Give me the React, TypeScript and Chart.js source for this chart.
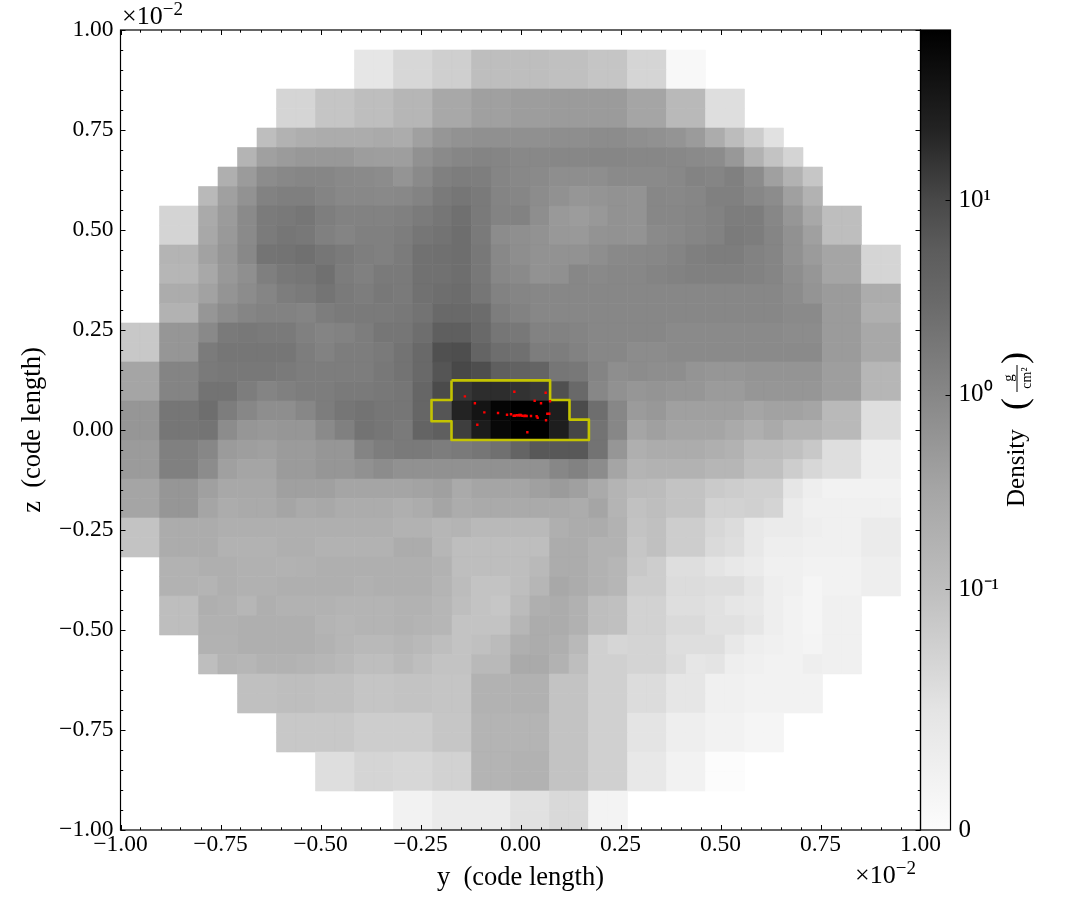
import React, { useEffect, useRef } from "react";
import { Chart, registerables } from "chart.js";

Chart.register(...registerables);

// Grey level (colormapped density) of each cell on the 40x40 fine grid.
// Each row: [first column, ...levels], listed from the top row to the bottom row.
const rowCoarse0 = [12, 230, 230, 215, 215, 207, 207, 190, 190, 190, 190, 192, 192, 197, 197, 213, 213, 248, 248];
const rowCoarse2 = [8, 213, 213, 197, 197, 190, 190, 182, 182, 168, 168, 160, 160, 157, 157, 155, 155, 155, 155, 165, 165, 185, 185, 222, 222];
const rowsMiddle = [
  [7, 190, 178, 174, 172, 172, 172, 170, 172, 160, 150, 146, 144, 144, 144, 144, 142, 142, 140, 140, 143, 145, 148, 155, 172, 188, 205, 225],
  [6, 180, 160, 155, 152, 152, 152, 157, 158, 158, 145, 138, 134, 132, 133, 136, 136, 135, 135, 134, 134, 135, 135, 136, 138, 140, 152, 178, 195, 212],
  [5, 175, 155, 140, 136, 134, 134, 137, 138, 140, 148, 138, 128, 125, 126, 133, 136, 138, 142, 142, 142, 138, 138, 138, 136, 131, 133, 128, 140, 160, 178, 198],
  [4, 185, 160, 146, 130, 127, 127, 132, 136, 136, 137, 136, 131, 122, 118, 122, 132, 134, 140, 145, 150, 148, 146, 147, 135, 136, 134, 128, 128, 135, 140, 160, 178],
  [2, 212, 212, 170, 155, 138, 123, 121, 118, 126, 130, 130, 130, 128, 123, 118, 112, 122, 131, 130, 142, 153, 156, 152, 146, 147, 135, 135, 133, 130, 125, 125, 135, 150, 168, 190, 190],
  [2, 212, 212, 168, 153, 138, 123, 118, 120, 128, 132, 128, 128, 125, 118, 115, 110, 122, 140, 143, 146, 152, 153, 147, 146, 147, 138, 136, 133, 130, 123, 125, 133, 145, 160, 190, 190],
  [2, 180, 180, 162, 150, 136, 116, 115, 112, 118, 122, 126, 128, 123, 113, 112, 110, 120, 136, 142, 146, 146, 146, 142, 137, 136, 135, 132, 127, 125, 125, 130, 133, 145, 155, 165, 165, 213, 213],
  [2, 182, 182, 168, 152, 143, 127, 120, 118, 112, 124, 128, 122, 122, 113, 113, 110, 120, 135, 138, 146, 144, 135, 137, 135, 135, 132, 130, 128, 128, 128, 130, 133, 142, 150, 165, 165, 213, 213],
  [2, 172, 172, 162, 148, 140, 133, 125, 122, 116, 122, 125, 120, 122, 113, 110, 108, 118, 130, 133, 135, 135, 135, 135, 135, 135, 135, 135, 135, 135, 135, 135, 135, 140, 148, 155, 155, 172, 172],
  [2, 178, 178, 150, 140, 133, 130, 130, 132, 125, 122, 122, 122, 120, 115, 105, 105, 108, 125, 130, 135, 135, 135, 135, 135, 135, 135, 135, 135, 135, 135, 135, 135, 138, 138, 155, 155, 175, 175],
  [0, 200, 200, 150, 150, 137, 122, 120, 122, 122, 128, 132, 130, 125, 118, 118, 110, 95, 95, 105, 118, 120, 130, 130, 132, 135, 135, 135, 135, 138, 138, 138, 138, 138, 138, 140, 140, 155, 155, 168, 168],
  [0, 200, 200, 150, 150, 123, 118, 118, 118, 118, 125, 130, 125, 125, 122, 115, 105, 80, 78, 100, 110, 112, 125, 125, 130, 135, 135, 140, 140, 138, 138, 138, 138, 138, 138, 138, 138, 155, 155, 168, 168],
  [0, 165, 165, 132, 132, 122, 120, 120, 120, 122, 125, 125, 125, 125, 120, 115, 105, 85, 72, 78, 95, 98, 100, 118, 120, 132, 142, 140, 142, 142, 148, 150, 150, 148, 148, 148, 148, 158, 158, 182, 182],
  [0, 165, 165, 132, 132, 115, 115, 125, 132, 128, 125, 125, 122, 122, 120, 118, 102, 75, 55, 45, 45, 50, 55, 80, 105, 135, 145, 150, 148, 150, 150, 155, 155, 150, 150, 150, 150, 158, 158, 182, 182],
  [0, 150, 150, 118, 118, 110, 125, 135, 142, 142, 135, 125, 118, 115, 118, 118, 102, 85, 35, 20, 5, 0, 0, 30, 75, 110, 135, 155, 152, 160, 160, 160, 160, 165, 162, 162, 165, 185, 185, 222, 222],
  [0, 150, 150, 118, 118, 116, 140, 150, 152, 150, 150, 138, 128, 115, 118, 122, 100, 95, 62, 28, 8, 0, 0, 30, 70, 115, 135, 165, 160, 165, 165, 165, 170, 175, 170, 178, 178, 185, 185, 222, 222],
  [0, 155, 155, 128, 128, 135, 155, 158, 160, 155, 155, 150, 150, 132, 125, 122, 122, 125, 122, 118, 112, 100, 88, 88, 88, 115, 150, 175, 172, 172, 172, 175, 178, 188, 188, 192, 200, 222, 222, 238, 238],
  [0, 155, 155, 128, 128, 140, 160, 165, 165, 155, 155, 150, 150, 145, 140, 145, 145, 145, 145, 145, 145, 145, 145, 135, 130, 140, 165, 180, 178, 178, 178, 182, 182, 192, 192, 205, 215, 222, 222, 238, 238],
  [0, 165, 165, 150, 150, 160, 168, 168, 168, 160, 160, 160, 165, 165, 165, 165, 163, 160, 170, 165, 165, 165, 160, 155, 160, 170, 180, 187, 188, 195, 195, 202, 205, 208, 208, 230, 238, 242, 242, 242, 242],
  [0, 165, 165, 150, 150, 165, 172, 170, 170, 165, 170, 168, 172, 172, 172, 175, 172, 165, 172, 170, 170, 170, 170, 170, 172, 165, 180, 193, 190, 195, 195, 210, 210, 208, 212, 235, 240, 240, 240, 240, 240],
  [0, 195, 195, 172, 172, 172, 175, 175, 175, 175, 175, 175, 175, 175, 175, 178, 178, 182, 180, 185, 185, 185, 185, 175, 172, 172, 178, 195, 192, 205, 205, 215, 220, 232, 235, 235, 238, 240, 240, 235, 235],
  [0, 195, 195, 172, 172, 172, 178, 178, 178, 175, 175, 178, 178, 178, 178, 172, 172, 182, 190, 190, 190, 190, 190, 172, 172, 178, 178, 198, 192, 205, 205, 218, 222, 232, 238, 238, 240, 240, 240, 235, 235],
  [2, 178, 178, 175, 175, 177, 177, 178, 177, 175, 175, 175, 175, 175, 175, 178, 190, 190, 190, 190, 185, 172, 172, 178, 182, 200, 205, 222, 222, 228, 232, 235, 240, 240, 242, 242, 242, 238, 238],
  [2, 178, 178, 180, 175, 177, 177, 175, 175, 175, 175, 177, 175, 175, 175, 180, 188, 195, 195, 190, 182, 168, 172, 178, 182, 205, 205, 220, 220, 222, 222, 230, 238, 240, 245, 242, 242, 238, 238],
  [2, 190, 190, 175, 177, 182, 175, 178, 178, 178, 180, 180, 180, 178, 178, 182, 190, 195, 198, 187, 175, 172, 177, 190, 192, 210, 210, 222, 222, 225, 230, 232, 238, 242, 245, 240, 240],
  [2, 190, 190, 177, 177, 175, 175, 175, 175, 180, 182, 180, 180, 178, 180, 182, 195, 195, 195, 182, 172, 172, 177, 190, 192, 210, 210, 218, 218, 225, 225, 230, 238, 242, 245, 240, 240],
  [4, 178, 178, 175, 175, 175, 175, 178, 182, 185, 185, 182, 185, 190, 195, 192, 187, 175, 172, 175, 185, 208, 214, 212, 212, 222, 222, 222, 232, 238, 240, 242, 244, 240, 240],
  [4, 190, 180, 182, 178, 178, 180, 182, 185, 190, 190, 185, 190, 195, 195, 185, 185, 170, 170, 178, 190, 208, 208, 212, 212, 220, 230, 228, 238, 240, 242, 242, 238, 240, 240],
];
const rowCoarse32 = [6, 192, 192, 190, 190, 192, 192, 197, 197, 195, 195, 197, 197, 178, 178, 177, 177, 195, 195, 208, 208, 220, 220, 230, 230, 240, 240, 242, 242, 242, 242];
const rowCoarse34 = [8, 200, 200, 200, 200, 205, 205, 205, 205, 198, 198, 180, 180, 180, 180, 195, 195, 208, 208, 228, 228, 238, 238, 242, 242, 245, 245];
const rowCoarse36 = [10, 222, 222, 213, 213, 215, 215, 210, 210, 180, 180, 178, 178, 195, 195, 208, 208, 232, 232, 242, 242, 252, 252];
const rowCoarse38 = [14, 242, 242, 235, 235, 235, 235, 225, 225, 217, 217, 243, 243];
const gridRows = [
  rowCoarse0, rowCoarse0, rowCoarse2, rowCoarse2, ...rowsMiddle,
  rowCoarse32, rowCoarse32, rowCoarse34, rowCoarse34, rowCoarse36, rowCoarse36, rowCoarse38, rowCoarse38,
];

// Clump contour (y, z in units of 1e-2 code length)
const contourY = [-0.1725, 0.074, 0.074, 0.1225, 0.1225, 0.171, 0.171, -0.1725, -0.1725, -0.2225, -0.2225, -0.1725, -0.1725];
const contourZ = [0.124, 0.124, 0.075, 0.075, 0.026, 0.026, -0.025, -0.025, 0.022, 0.022, 0.075, 0.075, 0.124];

// Particles
const particleY = [-0.139, -0.114, -0.0904, -0.0562, -0.0337, -0.0237, -0.0154, 0.0629, 0.0354, 0.0513, 0.0738, -0.108, 0.0171, 0.0638, 0.0671, 0.0721, 0.0404, 0.0429, 0.0263, 0.0154, 0.0096, 0.0046, -0.0013, -0.0054, -0.0096, -0.0138, -0.0171, 0.0005, -0.003, 0.012];
const particleZ = [0.084, 0.067, 0.044, 0.0425, 0.0383, 0.0392, 0.0958, 0.0933, 0.0733, 0.0667, 0.0717, 0.0133, -0.0058, 0.0242, 0.0408, 0.0408, 0.0342, 0.0308, 0.035, 0.035, 0.035, 0.0358, 0.0367, 0.0367, 0.0367, 0.0358, 0.0358, 0.0375, 0.0375, 0.0358];

const axisMajorTicks = [-1, -0.75, -0.5, -0.25, 0, 0.25, 0.5, 0.75, 1];
const colorbarTickDensity = [0, 0.1, 1, 10];
const colorbarTickLabels = ["0", "10⁻¹", "10⁰", "10¹"];
// Colormap: position on the colorbar (0 to 1) and its grey level
const colorbarStopPos = [0, 0.15, 0.3009, 0.4258, 0.5438, 0.6625, 0.725, 0.7875, 0.875, 1];
const colorbarStopGrey = [252, 228, 190, 165, 135, 105, 92, 72, 35, 0];

const CELL = 0.04875; // fine cell size in axis units
const FONT = "'Liberation Serif', 'Times New Roman', serif";

const densityToPos = (v: number) =>
  v <= 0 ? 0 : v < 0.1 ? (v / 0.1) * 0.3009 : 0.3009 + Math.log10(v / 0.1) * 0.2433;

const fmtTick = (v: number) => (v < 0 ? "\u2212" : "") + Math.abs(v).toFixed(2);

function drawFrameTicks(chart: any) {
  const { ctx, chartArea: a, scales } = chart;
  const { left, right, top, bottom } = a;
  ctx.save();
  ctx.strokeStyle = "#000";
  ctx.lineWidth = 1;
  const minorStep = 0.05;
  for (let k = -20; k <= 20; k++) {
    const v = k * minorStep;
    const major = k % 5 === 0;
    const len = major ? 5 : 2.7;
    const x = Math.round(scales.x.getPixelForValue(v)) + 0.5;
    const y = Math.round(scales.y.getPixelForValue(v)) + 0.5;
    ctx.beginPath();
    ctx.moveTo(x, bottom); ctx.lineTo(x, bottom - len);
    ctx.moveTo(x, top); ctx.lineTo(x, top + len);
    ctx.moveTo(left, y); ctx.lineTo(left + len, y);
    ctx.moveTo(right, y); ctx.lineTo(right - len, y);
    ctx.stroke();
  }
  // colorbar gradient, frame and ticks
  const cbLeft = right;
  const cbW = 30;
  const s = scales.cb;
  const g = ctx.createLinearGradient(0, s.getPixelForValue(0), 0, s.getPixelForValue(1));
  colorbarStopPos.forEach((p, i) => {
    const c = colorbarStopGrey[i];
    g.addColorStop(p, `rgb(${c},${c},${c})`);
  });
  ctx.fillStyle = g;
  ctx.fillRect(cbLeft, top, cbW, bottom - top);
  ctx.lineWidth = 1.2;
  ctx.strokeRect(cbLeft, top, cbW, bottom - top);
  ctx.strokeRect(left, top, right - left, bottom - top);
  ctx.lineWidth = 1;
  colorbarTickDensity.slice(1).forEach((d) => {
    const y = Math.round(s.getPixelForValue(densityToPos(d))) + 0.5;
    ctx.beginPath();
    ctx.moveTo(cbLeft + cbW, y);
    ctx.lineTo(cbLeft + cbW - 5, y);
    ctx.stroke();
  });

  // offset texts
  ctx.fillStyle = "#000";
  ctx.textBaseline = "alphabetic";
  ctx.textAlign = "left";
  const offset = (x: number, y: number) => {
    ctx.font = `26px ${FONT}`;
    ctx.fillText("×10", x, y);
    const w = ctx.measureText("×10").width;
    ctx.font = `19px ${FONT}`;
    ctx.fillText("\u22122", x + w, y - 9);
  };
  offset(122, 24);
  offset(855, 883);

  // colorbar title, rotated
  ctx.save();
  ctx.translate(1024, 430);
  ctx.rotate(-Math.PI / 2);
  ctx.font = `25px ${FONT}`;
  ctx.textAlign = "left";
  ctx.fillText("Density", -77, 0);
  ctx.font = `36px ${FONT}`;
  ctx.fillText("(", 20, 2);
  ctx.fillText(")", 66, 2);
  ctx.textAlign = "center";
  ctx.font = `15px ${FONT}`;
  ctx.fillText("g", 52, -11);
  ctx.font = `14px ${FONT}`;
  ctx.fillText("cm²", 52, 7);
  ctx.fillRect(38, -7.5, 27, 1);
  ctx.restore();
  ctx.restore();
}

export default function App() {
  const ref = useRef<HTMLCanvasElement | null>(null);

  useEffect(() => {
    const cells: { x: number; y: number }[] = [];
    const colors: string[] = [];
    gridRows.forEach((row, r) => {
      row.slice(1).forEach((level, i) => {
        const c = row[0] + i;
        cells.push({ x: -1 + (c + 0.5) * CELL, y: 0.95 - (r + 0.5) * CELL });
        colors.push(`rgb(${level},${level},${level})`);
      });
    });

    const cellRadius = 19.5 * Math.SQRT1_2;

    const chart = new Chart(ref.current as HTMLCanvasElement, {
      type: "scatter",
      data: {
        datasets: [
          {
            label: "particles",
            data: particleY.map((y, i) => ({ x: y, y: particleZ[i] })),
            pointStyle: "rect",
            pointRadius: 1.7,
            pointBackgroundColor: "#ff0000",
            pointBorderWidth: 0,
            showLine: false,
          },
          {
            label: "contour",
            data: contourY.map((y, i) => ({ x: y, y: contourZ[i] })),
            showLine: true,
            pointRadius: 0,
            borderColor: "#c4c400",
            borderWidth: 2.6,
            borderJoinStyle: "round",
            tension: 0,
          },
          {
            label: "density",
            data: cells,
            pointStyle: "rect",
            pointRadius: cellRadius,
            pointBackgroundColor: colors,
            pointBorderColor: colors,
            pointBorderWidth: 0.6,
            showLine: false,
          },
        ] as any,
      },
      options: {
        animation: false,
        responsive: false,
        devicePixelRatio: 1,
        events: [],
        layout: { autoPadding: false, padding: { top: 30, left: 0, right: 0, bottom: 0 } },
        plugins: { legend: { display: false }, tooltip: { enabled: false } },
        scales: {
          x: {
            type: "linear",
            min: -1,
            max: 1,
            afterBuildTicks: (s: any) => { s.ticks = axisMajorTicks.map((value) => ({ value })); },
            afterFit: (s: any) => { s.height = 90; },
            grid: { display: false, drawTicks: false },
            border: { display: false },
            ticks: {
              autoSkip: false, maxRotation: 0, padding: 1, color: "#000",
              font: { family: FONT, size: 23.5 },
              callback: (v: any) => fmtTick(Number(v)),
            },
            title: {
              display: true, text: "y  (code length)", color: "#000",
              font: { family: FONT, size: 26.5 }, padding: { top: 0, bottom: 26 },
            },
          },
          y: {
            type: "linear",
            min: -1,
            max: 1,
            afterBuildTicks: (s: any) => { s.ticks = axisMajorTicks.map((value) => ({ value })); },
            afterFit: (s: any) => { s.width = 120.5; s.paddingTop = 0; s.paddingBottom = 0; },
            grid: { display: false, drawTicks: false },
            border: { display: false },
            ticks: {
              autoSkip: false, padding: 7, color: "#000",
              font: { family: FONT, size: 23.5 },
              callback: (v: any) => fmtTick(Number(v)),
            },
            title: {
              display: true, text: "z  (code length)", color: "#000",
              font: { family: FONT, size: 26.5 }, padding: { top: 17, bottom: 0 },
            },
          },
          cb: {
            type: "linear",
            position: "right",
            min: 0,
            max: 1,
            afterBuildTicks: (s: any) => {
              s.ticks = colorbarTickDensity.map((d) => ({ value: densityToPos(d) }));
            },
            afterFit: (s: any) => { s.width = 164.5; s.paddingTop = 0; s.paddingBottom = 0; },
            grid: { display: false, drawTicks: false },
            border: { display: false },
            ticks: {
              autoSkip: false, padding: 38, color: "#000",
              font: { family: FONT, size: 25 },
              callback: (_v: any, i: number) => colorbarTickLabels[i],
            },
          },
        },
      } as any,
      plugins: [{ id: "frameTicks", afterDraw: drawFrameTicks }],
    });
    return () => chart.destroy();
  }, []);

  return (
    <div style={{ position: "absolute", left: 0, top: 0, width: 1085, height: 920, background: "#fff" }}>
      <canvas ref={ref} width={1085} height={920} style={{ display: "block" }} />
    </div>
  );
}
